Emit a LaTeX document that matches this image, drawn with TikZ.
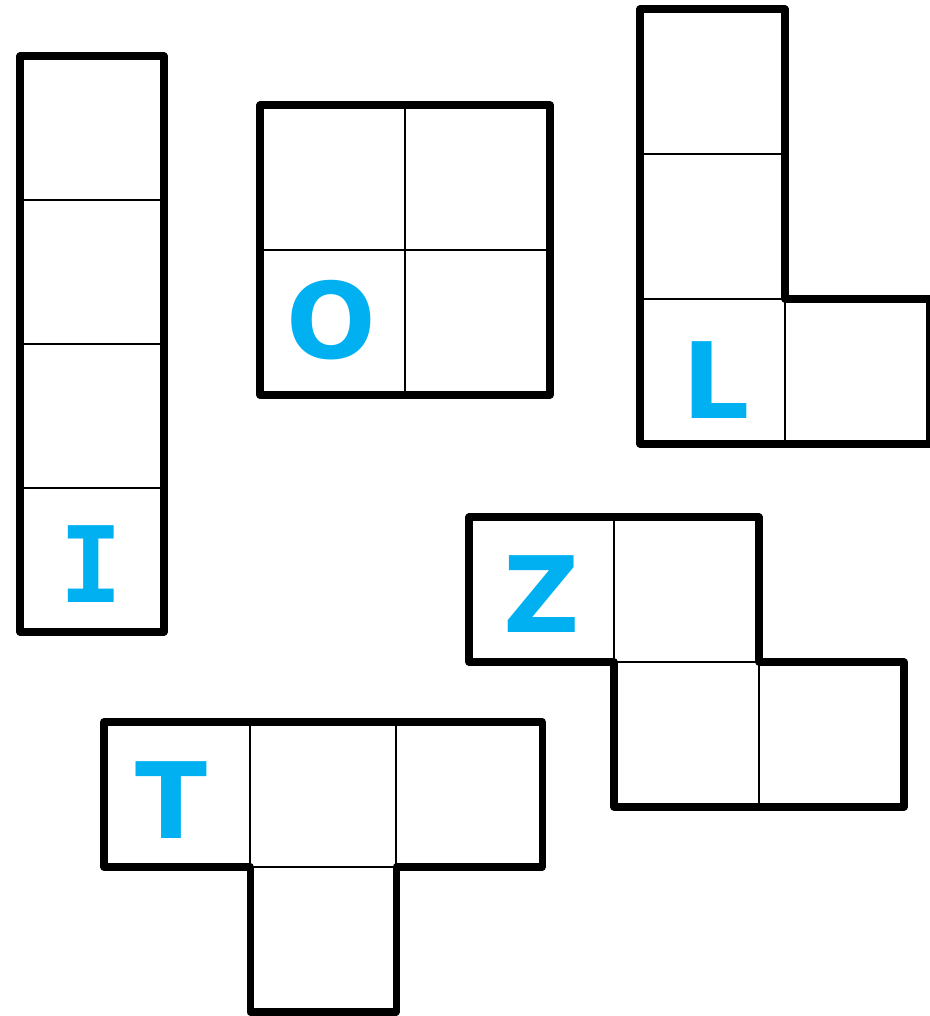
\documentclass[tikz,border=0pt]{standalone}
\usepackage{fontspec}
\setsansfont{DejaVu Sans}
\setmonofont{DejaVu Sans Mono}
\definecolor{tetcyan}{RGB}{0,176,240}
\begin{document}
\begin{tikzpicture}[line join=round, line cap=round,
		piece/.style={line width=2pt},
		cellline/.style={line width=0.6pt},
		tag/.style={text=tetcyan, inner sep=0pt, font=\sffamily\bfseries\fontsize{30}{30}\selectfont}]
	\def\s{1.45}
	\useasboundingbox (0,0) rectangle (9.29,10.16);
	% I
	\begin{scope}[shift={(0.20,3.84)}]
		\def\s{1.44}
		\foreach \k in {1,2,3} \draw[cellline] (0,\k*\s) -- (\s,\k*\s);
		\draw[piece] (0,0) rectangle (\s,4*\s);
		\node[tag, font=\ttfamily\bfseries\fontsize{30}{30}\selectfont] (labI) at (0.71,0.68) {I};
	\end{scope}
	% O
	\begin{scope}[shift={(2.60,6.21)}]
		\draw[cellline] (\s,0) -- (\s,2*\s);
		\draw[cellline] (0,\s) -- (2*\s,\s);
		\draw[piece] (0,0) rectangle (2*\s,2*\s);
		\node[tag] (labO) at (0.71,0.75) {O};
	\end{scope}
	% L
	\begin{scope}[shift={(6.40,5.72)}]
		\foreach \k in {1,2} \draw[cellline] (0,\k*\s) -- (\s,\k*\s);
		\draw[cellline] (\s,0) -- (\s,\s);
		\draw[piece] (0,0) -- (2*\s,0) -- (2*\s,\s) -- (\s,\s) -- (\s,3*\s) -- (0,3*\s) -- cycle;
		\node[tag] (labL) at (0.76,0.64) {L};
	\end{scope}
	% Z
	\begin{scope}[shift={(4.69,2.09)}]
		\draw[cellline] (\s,\s) -- (\s,2*\s);
		\draw[cellline] (\s,\s) -- (2*\s,\s);
		\draw[cellline] (2*\s,0) -- (2*\s,\s);
		\draw[piece] (0,\s) -- (\s,\s) -- (\s,0) -- (3*\s,0) -- (3*\s,\s) -- (2*\s,\s) -- (2*\s,2*\s) -- (0,2*\s) -- cycle;
		\node[tag] (labZ) at (0.73,2.13) {Z};
	\end{scope}
	% T
	\begin{scope}[shift={(1.04,0.04)}, xscale=1.007]
		\foreach \k in {1,2} \draw[cellline] (\k*\s,\s) -- (\k*\s,2*\s);
		\draw[cellline] (\s,\s) -- (2*\s,\s);
		\draw[piece] (0,\s) -- (\s,\s) -- (\s,0) -- (2*\s,0) -- (2*\s,\s) -- (3*\s,\s) -- (3*\s,2*\s) -- (0,2*\s) -- cycle;
		\node[tag] (labT) at (0.67,2.12) {T};
	\end{scope}
\end{tikzpicture}
\end{document}
